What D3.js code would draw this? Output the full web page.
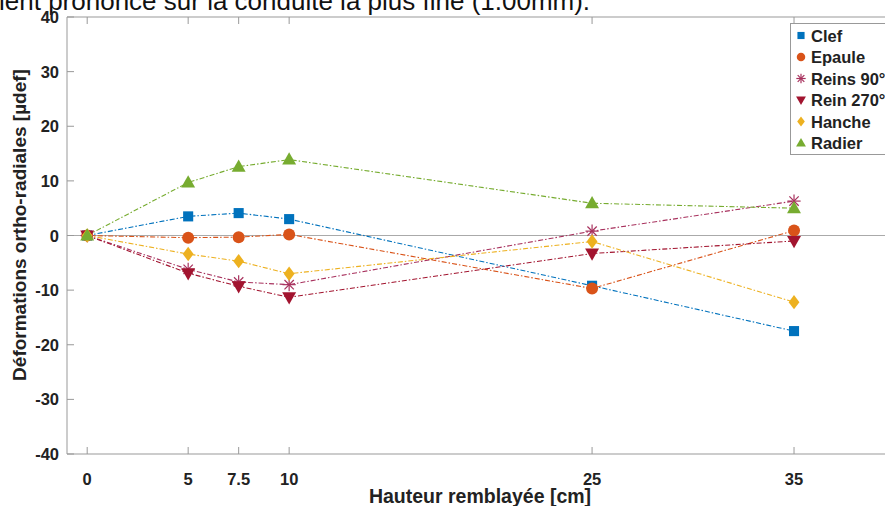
<!DOCTYPE html>
<html><head><meta charset="utf-8">
<script src="https://cdn.jsdelivr.net/npm/d3@7"></script>
<style>body{margin:0;background:#fff;overflow:hidden}svg{display:block}text{font-family:"Liberation Sans",Arial,sans-serif}</style>
</head><body><svg id="c" width="885" height="506"></svg>
<script>
const xValues = [0, 5, 7.5, 10, 25, 35];
const xTickLabels = ["0", "5", "7.5", "10", "25", "35"];
const yTicks = [-40, -30, -20, -10, 0, 10, 20, 30, 40];
const seriesNames = ["Clef", "Epaule", "Reins 90°", "Rein 270°", "Hanche", "Radier"];
const clef    = [0, 3.5, 4.1, 3.0, -9.2, -17.5];
const epaule  = [0, -0.4, -0.3, 0.2, -9.7, 0.9];
const reins90 = [0, -6.2, -8.5, -9.0, 0.8, 6.3];
const rein270 = [0, -6.9, -9.3, -11.3, -3.3, -1.0];
const hanche  = [0, -3.4, -4.7, -7.0, -1.1, -12.2];
const radier  = [0, 9.7, 12.6, 13.9, 5.9, 5.0];
const seriesValues = [clef, epaule, reins90, rein270, hanche, radier];
const colors = ["#0072BD", "#D95319", "#A8325E", "#A2142F", "#EDB120", "#77AC30"];
const symbols = ["square", "circle", "asterisk", "triDown", "diamond", "triangle"];

const svg = d3.select("#c");
const x = d3.scaleLinear().domain([-1, 40]).range([67, 895]);
const y = d3.scaleLinear().domain([-40, 40]).range([454, 17]);

// clipped title text at top
svg.append("text").attr("x", -1).attr("y", 10).attr("font-size", 26).attr("fill", "#111")
  .text("ient prononcé sur la conduite la plus fine (1.00mm).");

// axes frame
const g = svg.append("g");
g.append("rect").attr("x", x(-1)).attr("y", y(40) - 1).attr("width", 885 - x(-1)).attr("height", 1).attr("fill", "#fff");
g.append("line").attr("x1", x(-1)).attr("x2", 885).attr("y1", y(40)).attr("y2", y(40)).attr("stroke", "#999");
g.append("line").attr("x1", x(-1)).attr("x2", 885).attr("y1", y(-40)).attr("y2", y(-40)).attr("stroke", "#999");
g.append("line").attr("x1", x(-1)).attr("x2", x(-1)).attr("y1", y(40)).attr("y2", y(-40)).attr("stroke", "#999");
// zero line
g.append("line").attr("x1", x(-1)).attr("x2", 885).attr("y1", y(0)).attr("y2", y(0)).attr("stroke", "#aaa").attr("stroke-width", 1.2);

// x ticks (bottom & top, inward)
xValues.forEach((v, i) => {
  g.append("line").attr("x1", x(v)).attr("x2", x(v)).attr("y1", y(-40)).attr("y2", y(-40) - 7).attr("stroke", "#999");
  g.append("line").attr("x1", x(v)).attr("x2", x(v)).attr("y1", y(40)).attr("y2", y(40) + 7).attr("stroke", "#999");
  g.append("text").attr("x", x(v)).attr("y", 485).attr("text-anchor", "middle")
    .attr("font-size", 16.5).attr("font-weight", "bold").attr("fill", "#222").text(xTickLabels[i]);
});
yTicks.forEach(v => {
  g.append("line").attr("x1", x(-1)).attr("x2", x(-1) + 7).attr("y1", y(v)).attr("y2", y(v)).attr("stroke", "#999");
  g.append("text").attr("x", 59).attr("y", y(v) + 6).attr("text-anchor", "end")
    .attr("font-size", 16.5).attr("font-weight", "bold").attr("fill", "#222").text(v);
});

// axis titles
svg.append("text").attr("x", 480).attr("y", 503).attr("text-anchor", "middle")
  .attr("font-size", 19.5).attr("font-weight", "bold").attr("fill", "#222").text("Hauteur remblayée [cm]");
svg.append("text").attr("transform", "translate(26,225) rotate(-90)").attr("text-anchor", "middle")
  .attr("font-size", 19).attr("font-weight", "bold").attr("fill", "#222").text("Déformations ortho-radiales [µdef]");

function drawMarker(sel, type, cx, cy, color, s) {
  if (type === "square") sel.append("rect").attr("x", cx - s*0.42).attr("y", cy - s*0.42).attr("width", s*0.84).attr("height", s*0.84).attr("fill", color);
  else if (type === "circle") sel.append("circle").attr("cx", cx).attr("cy", cy).attr("r", s*0.5).attr("fill", color);
  else if (type === "diamond") sel.append("path").attr("d", `M${cx},${cy-s*0.6}L${cx+s*0.45},${cy}L${cx},${cy+s*0.6}L${cx-s*0.45},${cy}Z`).attr("fill", color);
  else if (type === "triangle") sel.append("path").attr("d", `M${cx},${cy-s*0.6}L${cx+s*0.58},${cy+s*0.42}L${cx-s*0.58},${cy+s*0.42}Z`).attr("fill", color);
  else if (type === "triDown") sel.append("path").attr("d", `M${cx},${cy+s*0.6}L${cx+s*0.58},${cy-s*0.42}L${cx-s*0.58},${cy-s*0.42}Z`).attr("fill", color);
  else if (type === "asterisk") {
    const r = s*0.55;
    [0, 45, 90, 135].forEach(a => {
      const dx = r*Math.cos(a*Math.PI/180), dy = r*Math.sin(a*Math.PI/180);
      sel.append("line").attr("x1", cx-dx).attr("y1", cy-dy).attr("x2", cx+dx).attr("y2", cy+dy).attr("stroke", color).attr("stroke-width", 1.2);
    });
  }
}

const line = d3.line().x(d => x(d[0])).y(d => y(d[1]));
const plot = svg.append("g");
seriesValues.forEach((vals, i) => {
  const pts = xValues.map((xv, j) => [xv, vals[j]]);
  plot.append("path").attr("d", line(pts)).attr("fill", "none").attr("stroke", colors[i])
    .attr("stroke-width", 1.1).attr("stroke-dasharray", "5,2,1.5,2");
});
seriesValues.forEach((vals, i) => {
  vals.forEach((v, j) => drawMarker(plot, symbols[i], x(xValues[j]), y(v), colors[i], 12));
});

// legend
const lg = svg.append("g");
lg.append("rect").attr("x", 790.5).attr("y", 23.5).attr("width", 120).attr("height", 131)
  .attr("fill", "#fff").attr("stroke", "#999");
seriesNames.forEach((n, i) => {
  const cy = 35.5 + i * 21.5;
  drawMarker(lg, symbols[i], 801, cy, colors[i], 8.5);
  lg.append("text").attr("x", 811).attr("y", cy + 6).attr("font-size", 16.5).attr("font-weight", "bold")
    .attr("fill", "#222").text(n);
});
</script></body></html>
